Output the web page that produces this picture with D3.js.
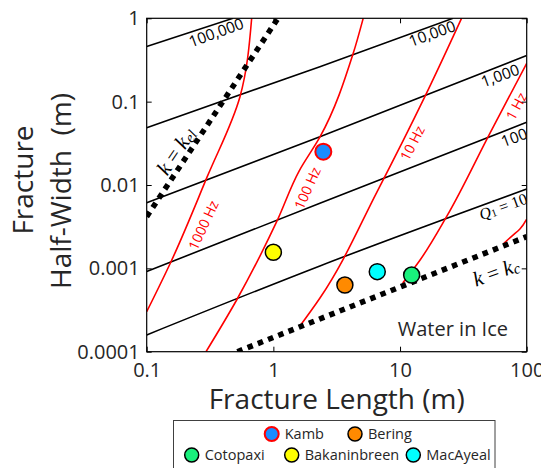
<!DOCTYPE html>
<html>
<head>
<meta charset="utf-8">
<script src="https://cdn.jsdelivr.net/npm/d3@7"></script>
<style>
  body { margin: 0; background: #fff; }
  svg { display: block; font-family: "Open Sans", sans-serif; }
  .tick text { fill: #262626; font-size: 20px; font-family: "Open Sans", sans-serif; }
  .math { font-family: "Liberation Serif", "DejaVu Serif", serif; }
</style>
</head>
<body>
<svg id="chart" width="541" height="468"></svg>
<script>
// axis ticks
var xTicks = [0.1, 1, 10, 100];
var xTickLabels = ["0.1", "1", "10", "100"];
var yTicks = [0.0001, 0.001, 0.01, 0.1, 1];
var yTickLabels = ["0.0001", "0.001", "0.01", "0.1", "1"];

// Q contours, [length, half-width]
var qNames = ["100,000", "10,000", "1,000", "100", "10"];
var q100000 = [[0.1, 0.459], [0.48, 1.0]];
var q10000 = [[0.1, 0.0487], [2.33, 0.263], [26.2, 1.0]];
var q1000 = [[0.1, 0.00613], [2.33, 0.038], [100, 0.358]];
var q100 = [[0.1, 0.000917], [2.33, 0.00603], [100, 0.0565]];
var q10 = [[0.1, 0.000159], [2.33, 0.00107], [100, 0.00895]];

// frequency contours
var fNames = ["1000 Hz", "100 Hz", "10 Hz", "1 Hz", ""];
var f1000 = [[0.1, 0.000302], [0.1555, 0.0012], [0.30, 0.0125], [0.545, 0.1147], [0.674, 1]];
var f100 = [[0.294, 0.0001], [0.513, 0.000417], [1.062, 0.00363], [1.60, 0.0148], [2.333, 0.0377], [4.27, 0.38], [5.12, 1]];
var f10 = [[1.62, 0.000203], [2.333, 0.000441], [6.69, 0.0087], [15.7, 0.1147], [30.6, 1]];
var f1 = [[10.5, 0.000667], [14.4, 0.00126], [23.3, 0.00417], [51.2, 0.0417], [100, 0.2885]];
var f01 = [[66, 0.0020], [76.4, 0.00244], [88.4, 0.00297], [100, 0.0039]];

// critical stiffness lines
var kel = [[0.1, 0.00417], [1.087, 1]];
var kc = [[0.52, 0.0001], [100, 0.0024]];

// observed sites
var sites = ["Kamb", "Bering", "Cotopaxi", "Bakaninbreen", "MacAyeal"];
var siteL = [2.48, 3.67, 12.35, 1.0, 6.61];
var siteW = [0.0251, 0.000631, 0.000832, 0.00156, 0.000912];
var siteFill = ["#1a8cff", "#ff8a00", "#19f07c", "#ffff00", "#00ffff"];
var siteEdge = ["#ff0000", "#000000", "#000000", "#000000", "#000000"];

var svg = d3.select('#chart');
var L = 146.7, R = 526.7, T = 18.3, B = 351.7;

var x = d3.scaleLog().domain([0.1, 100]).range([L, R]);
var y = d3.scaleLog().domain([0.0001, 1]).range([B, T]);

svg.append('clipPath').attr('id', 'plotclip')
    .append('rect').attr('x', L).attr('y', T).attr('width', R - L).attr('height', B - T);

var line = d3.line()
    .x(function(d) { return x(d[0]); })
    .y(function(d) { return y(d[1]); })
    .curve(d3.curveMonotoneX);

// the frequency curves are steep, so spline x as a function of y
var steepLine = d3.line()
    .x(function(d) { return x(d[0]); })
    .y(function(d) { return y(d[1]); })
    .curve(d3.curveMonotoneY);

var plot = svg.append('g').attr('clip-path', 'url(#plotclip)');

// Q lines
[q100000, q10000, q1000, q100, q10].forEach(function(q) {
    plot.append('path').attr('d', line(q))
        .attr('fill', 'none').attr('stroke', '#000').attr('stroke-width', 1.6);
});

// frequency lines (top to bottom for monotoneY)
[f1000, f100, f10, f1, f01].forEach(function(f) {
    plot.append('path').attr('d', steepLine(f.slice().reverse()))
        .attr('fill', 'none').attr('stroke', '#ff0000').attr('stroke-width', 1.6);
});

// dotted k lines
[kel, kc].forEach(function(k) {
    plot.append('path').attr('d', line(k))
        .attr('fill', 'none').attr('stroke', '#000').attr('stroke-width', 5.5)
        .attr('stroke-dasharray', '5.5,5.5');
});

// contour labels
function label(g, txt, cx, cy, ang, size, color) {
    return g.append('text')
        .attr('transform', 'translate(' + cx + ',' + cy + ') rotate(' + ang + ')')
        .attr('text-anchor', 'middle').attr('dominant-baseline', 'central')
        .attr('font-size', size).attr('fill', color).text(txt);
}
label(plot, qNames[0], 216, 32, -20, 15.5, '#000');
label(plot, qNames[1], 432, 33, -20, 15.5, '#000');
label(plot, qNames[2], 500, 75, -20, 15.5, '#000');
label(plot, qNames[3], 514, 137, -20, 15.5, '#000');

var ql = plot.append('text').attr('class', 'math')
    .attr('transform', 'translate(503,206) rotate(-20)')
    .attr('text-anchor', 'middle').attr('dominant-baseline', 'central')
    .attr('font-size', 16).attr('fill', '#000');
ql.append('tspan').attr('font-style', 'italic').text('Q');
ql.append('tspan').attr('font-size', 11).attr('dy', 3).text('1');
ql.append('tspan').attr('dy', -3).text(' = ' + qNames[4]);

label(plot, fNames[0], 203, 225, -65, 14, '#ff0000');
label(plot, fNames[1], 307, 188, -66, 14, '#ff0000');
label(plot, fNames[2], 412, 143, -63, 14, '#ff0000');
label(plot, fNames[3], 516, 106, -62, 14, '#ff0000');

var kl1 = plot.append('text').attr('class', 'math')
    .attr('transform', 'translate(176,151) rotate(-56)')
    .attr('text-anchor', 'middle').attr('dominant-baseline', 'central')
    .attr('font-size', 21).attr('fill', '#000');
kl1.append('tspan').attr('font-style', 'italic').text('k');
kl1.append('tspan').text(' = ');
kl1.append('tspan').attr('font-style', 'italic').text('k');
kl1.append('tspan').attr('font-style', 'italic').attr('font-size', 15).attr('dy', 4).text('el');

var kl2 = plot.append('text').attr('class', 'math')
    .attr('transform', 'translate(496,272) rotate(-20)')
    .attr('text-anchor', 'middle').attr('dominant-baseline', 'central')
    .attr('font-size', 21).attr('fill', '#000');
kl2.append('tspan').attr('font-style', 'italic').text('k');
kl2.append('tspan').text(' = ');
kl2.append('tspan').attr('font-style', 'italic').text('k');
kl2.append('tspan').attr('font-style', 'italic').attr('font-size', 15).attr('dy', 4).text('c');

svg.append('text').attr('x', 508).attr('y', 336).attr('text-anchor', 'end')
    .attr('font-size', 20).attr('fill', '#262626').text('Water in Ice');

// site dots
svg.append('g').selectAll('circle')
    .data(sites)
    .enter()
    .append('circle')
    .attr('cx', function(d, i) { return x(siteL[i]); })
    .attr('cy', function(d, i) { return y(siteW[i]); })
    .attr('r', 8)
    .attr('fill', function(d, i) { return siteFill[i]; })
    .attr('stroke', function(d, i) { return siteEdge[i]; })
    .attr('stroke-width', function(d, i) { return i == 0 ? 2 : 1.5; });

// axes, ticks inside like matlab
var fmtX = function(d) { return xTickLabels[xTicks.indexOf(d)]; };
var fmtY = function(d) { return yTickLabels[yTicks.indexOf(d)]; };

svg.append('g').attr('transform', 'translate(0,' + B + ')')
    .call(d3.axisBottom(x).tickValues(xTicks).tickFormat(fmtX).tickSizeInner(-5).tickSizeOuter(0).tickPadding(11));
svg.append('g').attr('transform', 'translate(' + L + ',0)')
    .call(d3.axisLeft(y).tickValues(yTicks).tickFormat(fmtY).tickSizeInner(-5).tickSizeOuter(0).tickPadding(7));
svg.append('g').attr('transform', 'translate(0,' + T + ')')
    .call(d3.axisTop(x).tickValues(xTicks).tickFormat('').tickSizeInner(-5).tickSizeOuter(0));
svg.append('g').attr('transform', 'translate(' + R + ',0)')
    .call(d3.axisRight(y).tickValues(yTicks).tickFormat('').tickSizeInner(-5).tickSizeOuter(0));
svg.selectAll('.domain').remove();
svg.selectAll('.tick line').attr('stroke', '#000');

svg.append('rect').attr('x', L).attr('y', T).attr('width', R - L).attr('height', B - T)
    .attr('fill', 'none').attr('stroke', '#000').attr('stroke-width', 1.2);

// axis titles
svg.append('text').attr('x', (L + R) / 2).attr('y', 409).attr('text-anchor', 'middle')
    .attr('font-size', 28).attr('fill', '#262626').text('Fracture Length (m)');
svg.append('text').attr('transform', 'translate(33,180) rotate(-90)').attr('text-anchor', 'middle')
    .attr('font-size', 28).attr('fill', '#262626').text('Fracture');
svg.append('text').attr('transform', 'translate(71,191) rotate(-90)').attr('text-anchor', 'middle')
    .attr('font-size', 28).attr('fill', '#262626').text('Half-Width\u00a0\u00a0(m)');

// legend
var legX = [271.7, 355, 191.7, 291.7, 413.3];
var legY = [434, 434, 455, 455, 455];
svg.append('rect').attr('x', 173.5).attr('y', 420.5).attr('width', 321.5).attr('height', 60)
    .attr('fill', '#fff').attr('stroke', '#404040').attr('stroke-width', 1);
var leg = svg.append('g').selectAll('g').data(sites).enter().append('g')
    .attr('transform', function(d, i) { return 'translate(' + legX[i] + ',' + legY[i] + ')'; });
leg.append('circle').attr('r', 7)
    .attr('fill', function(d, i) { return siteFill[i]; })
    .attr('stroke', function(d, i) { return siteEdge[i]; })
    .attr('stroke-width', function(d, i) { return i == 0 ? 2 : 1.5; });
leg.append('text').attr('x', 13).attr('dy', '0.35em').attr('font-size', 14.5)
    .attr('fill', '#262626').text(function(d) { return d; });
</script>
</body>
</html>
